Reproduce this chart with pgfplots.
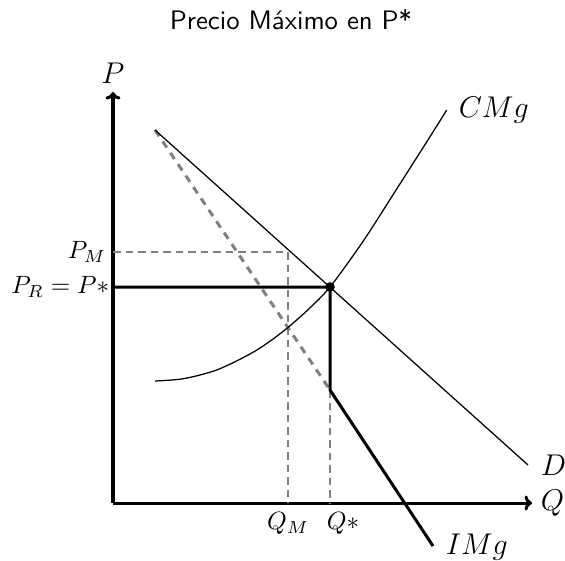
\documentclass[border=0pt]{standalone}
\usepackage{fontspec}
\usepackage{pgfplots}
\usetikzlibrary{arrows.meta}
\pgfplotsset{compat=1.18}
\begin{document}
\begin{tikzpicture}
\begin{axis}[
  x=4pt, y=4pt,
  xmin=0, xmax=41.9, ymin=0, ymax=41.1,
  axis lines=none, clip=false,
]
% bounding box helpers
\coordinate (bl) at (axis cs:-11.3,-5.7);
\coordinate (tr) at (axis cs:45.2,50.3);
% axes
\addplot[black, line width=1.2pt, -{To[length=3pt,width=6pt]}] coordinates {(0,0) (41.9,0)};
\addplot[black, line width=1.2pt, -{To[length=3pt,width=6pt]}] coordinates {(0,0) (0,41.1)};
% guides
\addplot[gray, line width=0.6pt, dash pattern=on 3pt off 2pt] coordinates {(0,25.1) (17.5,25.1) (17.5,0)};
\addplot[gray, line width=0.6pt, dash pattern=on 3pt off 2pt] coordinates {(21.7,11.3) (21.7,0)};
% marginal revenue (dashed part)
\addplot[gray, line width=1.2pt, dash pattern=on 3pt off 2.5pt] coordinates {(4.2,37.3) (21.7,11.3)};
% demand
\addplot[black, line width=0.5pt] coordinates {(4.2,37.3) (41.5,3.8)};
% marginal cost
\addplot[black, line width=0.5pt, smooth] coordinates {
 (4.2,12.2) (7.03,12.43) (10.37,13.3) (13.7,14.9) (15.7,16.18) (17.53,17.58)
 (19.53,19.36) (21.7,21.6) (25.03,26.2) (28.37,31.4) (31.7,36.63) (33.37,39.3)};
% effective marginal revenue (solid)
\addplot[black, line width=1.2pt] coordinates {(0,21.6) (21.7,21.6) (21.7,11.3) (32.0,-4.3)};
% equilibrium point
\addplot[only marks, mark=*, mark size=1.7pt, black] coordinates {(21.7,21.6)};
% labels
\node[font=\fontsize{10.7pt}{13pt}\sffamily] at (axis cs:17.8,48.3) {Precio Máximo en P*};
\node[above, font=\large] at (axis cs:0,41.1) {$P$};
\node[right, font=\large] at (axis cs:41.9,0) {$Q$};
\node[right, font=\large] at (axis cs:33.7,39.3) {$CMg$};
\node[right, font=\large] at (axis cs:41.9,3.8) {$D$};
\node[right, font=\large] at (axis cs:32.4,-4.4) {$IMg$};
\node[left] at (axis cs:0.2,25.1) {$P_M$};
\node[left] at (axis cs:0.5,21.6) {$P_R = P*$};
\node[below] at (axis cs:17.5,-0.1) {$Q_M$};
\node[below] at (axis cs:23.0,-0.1) {$Q*$};
\end{axis}
\pgfresetboundingbox
\path (bl) rectangle (tr);
\end{tikzpicture}
\end{document}
